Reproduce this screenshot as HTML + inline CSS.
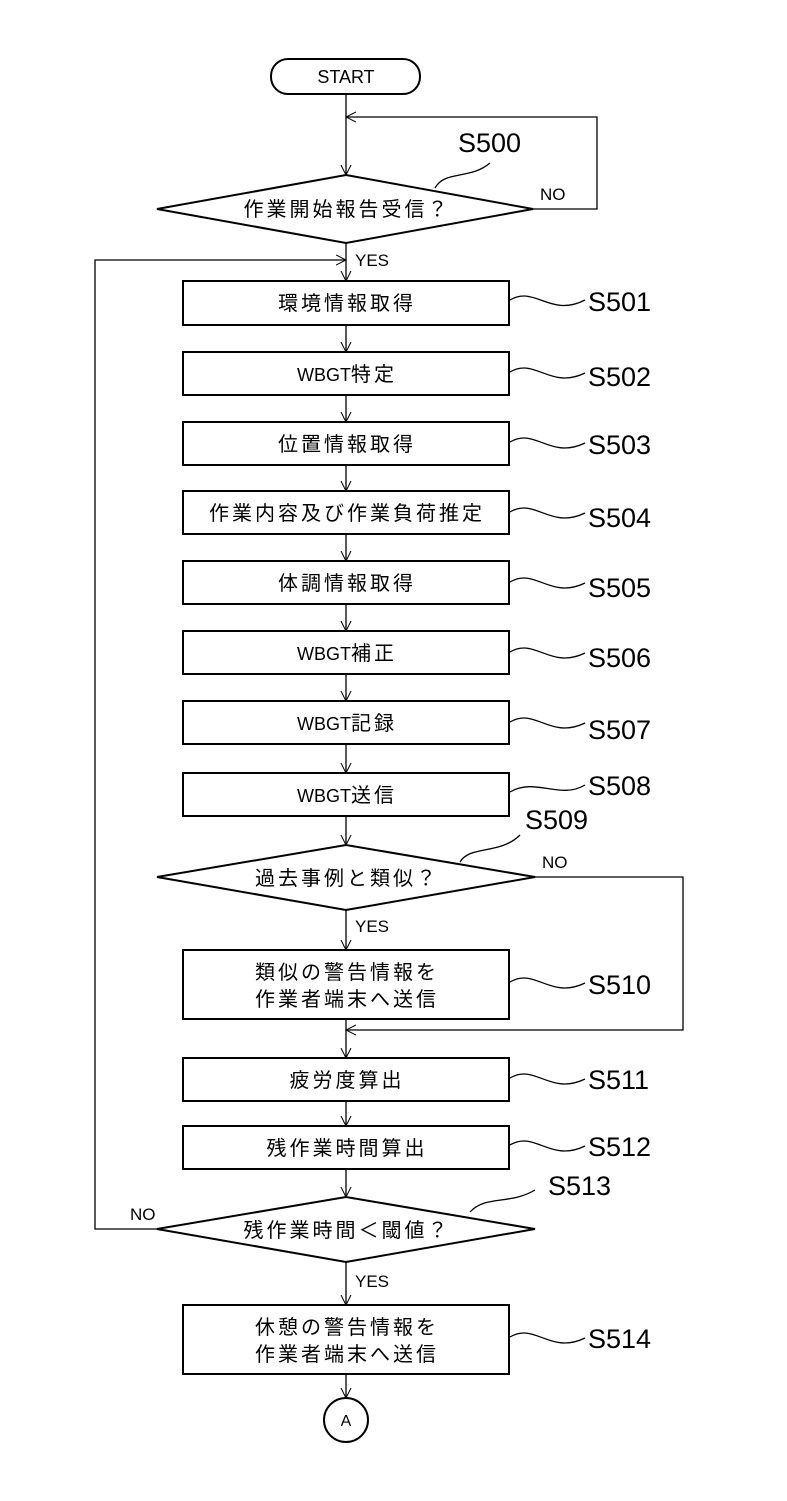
<!DOCTYPE html>
<html><head><meta charset="utf-8"><style>
body{margin:0;background:#fff}
svg text{font-family:"Liberation Sans","Noto Sans CJK JP",sans-serif;fill:#000}
.j{font-size:20px;letter-spacing:3px}
.w{letter-spacing:0;font-size:18px}
</style></head><body>
<svg width="787" height="1496" viewBox="0 0 787 1496" xmlns="http://www.w3.org/2000/svg">
<defs>
<marker id="a" markerWidth="12" markerHeight="12" refX="10" refY="6" orient="auto" markerUnits="userSpaceOnUse">
<path d="M0,1 L10,6 L0,11" fill="none" stroke="#000" stroke-width="1"/>
</marker>
</defs>
<g stroke="#000" stroke-width="2" fill="none">
<rect x="271" y="59" width="149" height="35" rx="17"/>
<polygon points="157,209 346,175 533,209 346,243"/>
<polygon points="157,877 346,845 535,877 346,910"/>
<polygon points="157,1229 346,1197 535,1229 346,1262"/>
<rect x="183" y="281" width="326" height="44"/>
<rect x="183" y="352" width="326" height="43"/>
<rect x="183" y="422" width="326" height="43"/>
<rect x="183" y="491" width="326" height="43"/>
<rect x="183" y="561" width="326" height="43"/>
<rect x="183" y="631" width="326" height="43"/>
<rect x="183" y="701" width="326" height="43"/>
<rect x="183" y="773" width="326" height="43"/>
<rect x="183" y="950" width="326" height="69"/>
<rect x="183" y="1058" width="326" height="43"/>
<rect x="183" y="1126" width="326" height="43"/>
<rect x="183" y="1305" width="326" height="69"/>
<circle cx="346" cy="1420" r="22"/>
</g>
<g stroke="#000" stroke-width="1.3" fill="none">
<line x1="346" y1="94" x2="346" y2="175" marker-end="url(#a)"/>
<polyline points="533,209 597,209 597,117 346,117" marker-end="url(#a)"/>
<line x1="346" y1="243" x2="346" y2="281" marker-end="url(#a)"/>
<polyline points="157,1229 95,1229 95,260 346,260" marker-end="url(#a)"/>
<line x1="346" y1="325" x2="346" y2="352" marker-end="url(#a)"/>
<line x1="346" y1="395" x2="346" y2="422" marker-end="url(#a)"/>
<line x1="346" y1="465" x2="346" y2="491" marker-end="url(#a)"/>
<line x1="346" y1="534" x2="346" y2="561" marker-end="url(#a)"/>
<line x1="346" y1="604" x2="346" y2="631" marker-end="url(#a)"/>
<line x1="346" y1="674" x2="346" y2="701" marker-end="url(#a)"/>
<line x1="346" y1="744" x2="346" y2="773" marker-end="url(#a)"/>
<line x1="346" y1="816" x2="346" y2="845" marker-end="url(#a)"/>
<line x1="346" y1="910" x2="346" y2="950" marker-end="url(#a)"/>
<polyline points="535,877 683,877 683,1030 346,1030" marker-end="url(#a)"/>
<line x1="346" y1="1019" x2="346" y2="1058" marker-end="url(#a)"/>
<line x1="346" y1="1101" x2="346" y2="1126" marker-end="url(#a)"/>
<line x1="346" y1="1169" x2="346" y2="1197" marker-end="url(#a)"/>
<line x1="346" y1="1262" x2="346" y2="1305" marker-end="url(#a)"/>
<line x1="346" y1="1374" x2="346" y2="1398" marker-end="url(#a)"/>
<path d="M435,188 C445,170 470,180 490,163"/>
<path d="M510,300 C535,285 550,318 585,300"/>
<path d="M510,372 C535,357 550,390 585,373"/>
<path d="M510,442 C535,427 550,460 585,443"/>
<path d="M510,512 C535,497 550,530 585,513"/>
<path d="M510,582 C535,567 550,600 585,583"/>
<path d="M510,652 C535,637 550,670 585,653"/>
<path d="M510,722 C535,707 550,740 585,723"/>
<path d="M510,792 C535,777 560,800 585,785"/>
<path d="M460,862 C470,845 500,855 520,835"/>
<path d="M510,982 C535,967 550,1000 585,983"/>
<path d="M510,1078 C535,1063 550,1096 585,1079"/>
<path d="M510,1145 C535,1130 550,1163 585,1146"/>
<path d="M470,1212 C485,1195 510,1205 535,1190"/>
<path d="M510,1337 C535,1322 550,1355 585,1338"/>
</g>
<g text-anchor="middle">
<text x="346" y="83" font-size="18">START</text>
<text class="j" x="347" y="216">作業開始報告受信？</text>
<text class="j" x="347" y="310">環境情報取得</text>
<text class="j" x="347" y="381"><tspan class="w">WBGT</tspan>特定</text>
<text class="j" x="347" y="451">位置情報取得</text>
<text class="j" x="347" y="520">作業内容及び作業負荷推定</text>
<text class="j" x="347" y="590">体調情報取得</text>
<text class="j" x="347" y="660"><tspan class="w">WBGT</tspan>補正</text>
<text class="j" x="347" y="730"><tspan class="w">WBGT</tspan>記録</text>
<text class="j" x="347" y="802"><tspan class="w">WBGT</tspan>送信</text>
<text class="j" x="347" y="885">過去事例と類似？</text>
<text class="j" x="347" y="979">類似の警告情報を</text>
<text class="j" x="347" y="1006">作業者端末へ送信</text>
<text class="j" x="347" y="1087">疲労度算出</text>
<text class="j" x="347" y="1155">残作業時間算出</text>
<text class="j" x="347" y="1237">残作業時間＜閾値？</text>
<text class="j" x="347" y="1334">休憩の警告情報を</text>
<text class="j" x="347" y="1361">作業者端末へ送信</text>
<text x="346" y="1426" font-size="16">A</text>
</g>
<g font-size="17">
<text x="355" y="266">YES</text>
<text x="540" y="200">NO</text>
<text x="355" y="932">YES</text>
<text x="542" y="868">NO</text>
<text x="355" y="1287">YES</text>
<text x="130" y="1220">NO</text>
</g>
<g font-size="27">
<text x="458" y="152">S500</text>
<text x="588" y="311">S501</text>
<text x="588" y="386">S502</text>
<text x="588" y="454">S503</text>
<text x="588" y="527">S504</text>
<text x="588" y="597">S505</text>
<text x="588" y="667">S506</text>
<text x="588" y="739">S507</text>
<text x="588" y="795">S508</text>
<text x="525" y="829">S509</text>
<text x="588" y="994">S510</text>
<text x="588" y="1089">S511</text>
<text x="588" y="1156">S512</text>
<text x="548" y="1195">S513</text>
<text x="588" y="1348">S514</text>
</g>
</svg>
</body></html>
